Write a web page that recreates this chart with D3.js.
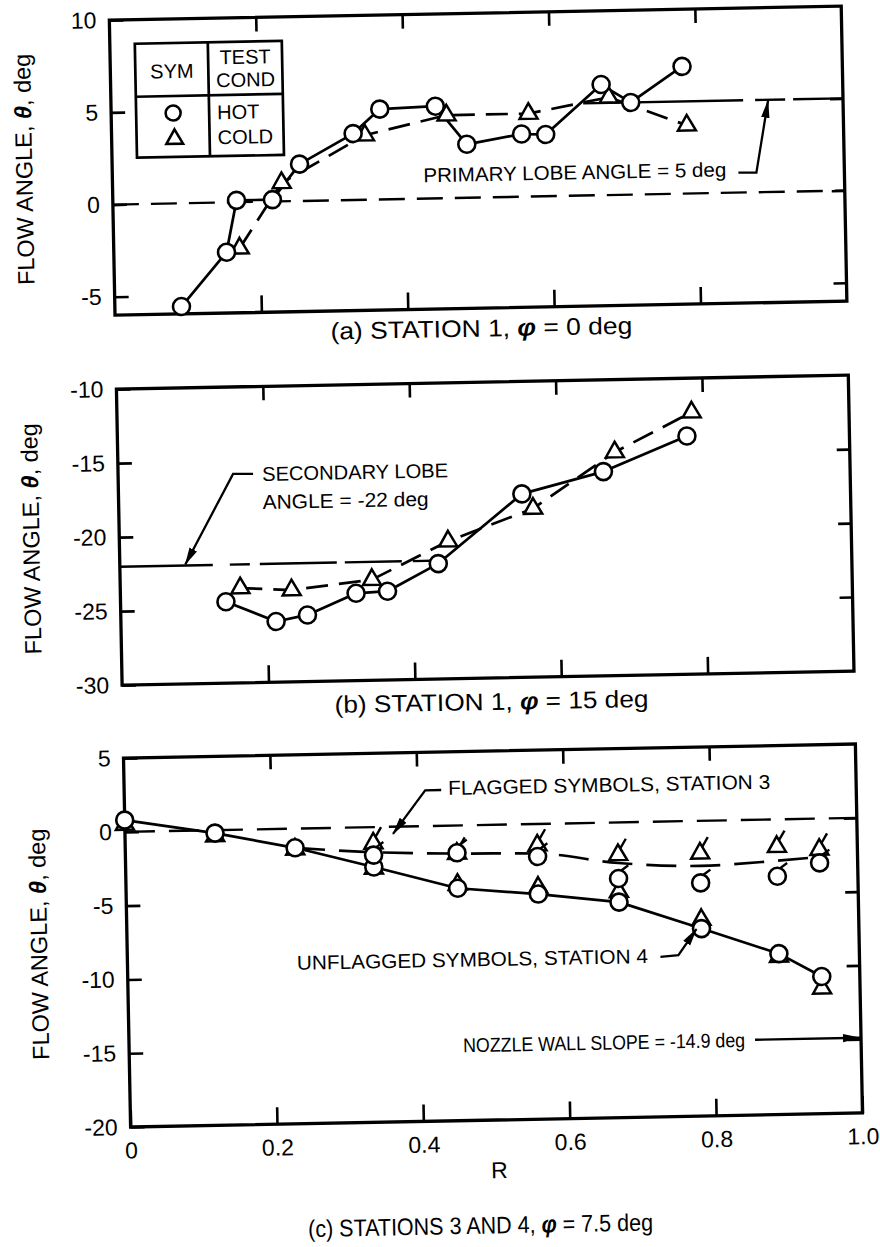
<!DOCTYPE html>
<html>
<head>
<meta charset="utf-8">
<script src="https://cdn.jsdelivr.net/npm/d3@7"></script>
<style>
  html, body { margin: 0; padding: 0; background: #fff; }
  svg { display: block; }
  text { font-family: "Liberation Sans", Arial, Helvetica, sans-serif; fill: #000; }
</style>
</head>
<body>
<svg id="chart" width="880" height="1247"></svg>
<script>
// ---------- (a) Station 1, phi = 0 deg ----------
const aHotR      = [0.091, 0.154, 0.169, 0.218, 0.256, 0.330, 0.367, 0.443, 0.485, 0.560, 0.593, 0.670, 0.710, 0.781];
const aHotTheta  = [-5.6, -2.7, 0.1, 0.1, 2.0, 3.6, 4.9, 5.0, 2.9, 3.4, 3.35, 6.0, 5.0, 6.9];
const aColdR     = [0.172, 0.231, 0.346, 0.458, 0.570, 0.680, 0.786];
const aColdTheta = [-2.5, 1.0, 3.5, 4.5, 4.5, 5.3, 3.7];
const aPrimaryLobe = 5;
const aYTicks = [-5, 0, 5, 10];
const aYDomain = [-6, 10];

// ---------- (b) Station 1, phi = 15 deg ----------
const bHotR      = [0.144, 0.212, 0.255, 0.322, 0.365, 0.435, 0.551, 0.663, 0.778];
const bHotTheta  = [-24.5, -25.9, -25.5, -24.1, -24.0, -22.2, -17.6, -16.2, -13.9];
const bColdR     = [0.164, 0.234, 0.344, 0.449, 0.566, 0.679, 0.785];
const bColdTheta = [-23.6, -23.8, -23.2, -20.7, -18.6, -14.9, -12.3];
const bSecondaryLobe = -22;
const bYTicks = [-30, -25, -20, -15, -10];
const bYDomain = [-30, -10];

// ---------- (c) Stations 3 and 4, phi = 7.5 deg ----------
// station 4 (unflagged symbols)
const cR4    = [0, 0.123, 0.232, 0.339, 0.453, 0.563, 0.673, 0.785, 0.890, 0.948];
const cHot4  = [0.8, -0.2, -1.3, -2.7, -4.25, -4.75, -5.4, -7.3, -9.1, -10.7];
const cCold4 = [0.5, -0.4, -1.4, -2.8, -4.0, -4.3, -4.7, -6.7, -9.3, -11.5];
// station 3 (flagged symbols)
const cR3    = [0.339, 0.453, 0.563, 0.673, 0.785, 0.890, 0.948];
const cHot3  = [-1.9, -1.85, -2.2, -3.8, -4.2, -3.85, -3.0];
const cCold3 = [-1.1, -1.9, -1.45, -2.2, -2.2, -1.85, -2.1];
// faired curve through the station 3 data
const cFairR3     = [0.232, 0.339, 0.453, 0.563, 0.673, 0.785, 0.890, 0.948];
const cFairTheta3 = [-1.3, -1.7, -1.9, -2.0, -2.75, -3.05, -2.8, -2.6];
const cNozzleWallSlope = -14.9;
const cYTicks = [-20, -15, -10, -5, 0, 5];
const cYDomain = [-20, 5];

const xTicks = [0, 0.2, 0.4, 0.6, 0.8, 1.0];

// ---------- drawing ----------
const svg = d3.select("#chart");
svg.append("rect").attr("width", 880).attr("height", 1247).attr("fill", "#fff");

const defs = svg.append("defs");
defs.append("marker")
  .attr("id", "arrow")
  .attr("viewBox", "0 0 18 10")
  .attr("refX", 17).attr("refY", 5)
  .attr("markerWidth", 18).attr("markerHeight", 10)
  .attr("markerUnits", "userSpaceOnUse")
  .attr("orient", "auto")
  .append("path").attr("d", "M0,0.8L18,5L0,9.2Z").attr("fill", "#000");

// the whole sheet sits slightly tilted
const page = svg.append("g").attr("transform", "rotate(-1.1,440,624)");

const left = 121, right = 853;
const x = d3.scaleLinear().domain([0, 1]).range([left, right]);
const innerX = xTicks.filter(d => d > 0 && d < 1);
const FONT = '"Liberation Sans", Arial, Helvetica, sans-serif';

function styleAxis(sel, fontSize) {
  sel.select(".domain").remove();
  sel.attr("font-family", FONT).attr("font-size", fontSize);
  sel.selectAll(".tick line").attr("stroke", "#000").attr("stroke-width", 2.6);
  sel.selectAll(".tick text").attr("fill", "#000");
}

function makePanel(top, bottom, domain, yTicks, withXLabels) {
  const y = d3.scaleLinear().domain(domain).range([bottom, top]);
  const g = page.append("g");
  const inner = yTicks.filter(d => d > domain[0] && d < domain[1]);

  g.append("g").attr("transform", `translate(${left},0)`)
    .call(d3.axisLeft(y).tickValues(yTicks).tickSizeInner(-14).tickSizeOuter(0)
      .tickPadding(13).tickFormat(d => String(d)))
    .call(s => styleAxis(s, 23));

  g.append("g").attr("transform", `translate(${right},0)`)
    .call(d3.axisRight(y).tickValues(inner).tickSizeInner(-13).tickSizeOuter(0).tickFormat(""))
    .call(s => styleAxis(s, 23));

  g.append("g").attr("transform", `translate(0,${top})`)
    .call(d3.axisTop(x).tickValues(innerX).tickSizeInner(-14).tickSizeOuter(0).tickFormat(""))
    .call(s => styleAxis(s, 23));

  const bottomAxis = withXLabels
    ? d3.axisBottom(x).tickValues(xTicks).tickSizeInner(-17).tickSizeOuter(0).tickPadding(15)
        .tickFormat(d => d === 0 ? "0" : d3.format(".1f")(d))
    : d3.axisBottom(x).tickValues(innerX).tickSizeInner(-17).tickSizeOuter(0).tickFormat("");
  g.append("g").attr("transform", `translate(0,${bottom})`)
    .call(bottomAxis)
    .call(s => styleAxis(s, 23));

  g.append("rect")
    .attr("x", left).attr("y", top)
    .attr("width", right - left).attr("height", bottom - top)
    .attr("fill", "none").attr("stroke", "#000").attr("stroke-width", 3.3);

  // y-axis title
  const t = g.append("text")
    .attr("transform", `translate(33,${(top + bottom) / 2}) rotate(-90)`)
    .attr("text-anchor", "middle").attr("dominant-baseline", "central")
    .attr("font-size", 23.5);
  t.append("tspan").text("FLOW ANGLE, ");
  t.append("tspan").attr("font-style", "italic").attr("font-weight", "bold").text("θ");
  t.append("tspan").text(", deg");

  return { g, y, top, bottom };
}

function drawLine(p, xs, ys, dash, curve) {
  const line = d3.line().x(d => x(d[0])).y(d => p.y(d[1]));
  if (curve) line.curve(curve);
  p.g.append("path")
    .attr("d", line(d3.zip(xs, ys)))
    .attr("fill", "none").attr("stroke", "#000").attr("stroke-width", 2.7)
    .attr("stroke-linejoin", "round")
    .attr("stroke-dasharray", dash || null);
}

function refLine(p, x0, x1, v, dash) {
  p.g.append("line")
    .attr("x1", x(x0)).attr("x2", x(x1))
    .attr("y1", p.y(v)).attr("y2", p.y(v))
    .attr("stroke", "#000").attr("stroke-width", 2.4)
    .attr("stroke-dasharray", dash);
}

const triPath = d3.symbol(d3.symbolTriangle, 140)();

function drawTriangles(p, xs, ys, flagged) {
  const sel = p.g.append("g").selectAll("g").data(d3.zip(xs, ys)).join("g")
    .attr("transform", d => `translate(${x(d[0])},${p.y(d[1])})`);
  sel.append("path").attr("d", triPath)
    .attr("fill", "#fff").attr("stroke", "#000").attr("stroke-width", 2.5)
    .attr("stroke-linejoin", "miter");
  if (flagged) {
    sel.append("line").attr("x1", 2).attr("y1", -6).attr("x2", 8).attr("y2", -16)
      .attr("stroke", "#000").attr("stroke-width", 2.4);
  }
}

function drawCircles(p, xs, ys, flagged) {
  const sel = p.g.append("g").selectAll("g").data(d3.zip(xs, ys)).join("g")
    .attr("transform", d => `translate(${x(d[0])},${p.y(d[1])})`);
  sel.append("circle").attr("r", 8.5)
    .attr("fill", "#fff").attr("stroke", "#000").attr("stroke-width", 2.6);
  if (flagged) {
    sel.append("line").attr("x1", 3).attr("y1", -8).attr("x2", 10).attr("y2", -13)
      .attr("stroke", "#000").attr("stroke-width", 2.4);
  }
}

function leader(pts) {
  page.append("path")
    .attr("d", d3.line()(pts))
    .attr("fill", "none").attr("stroke", "#000").attr("stroke-width", 2.3)
    .attr("marker-end", "url(#arrow)");
}

function label(xp, yp, str, size, anchor, len) {
  const t = page.append("text")
    .attr("x", xp).attr("y", yp)
    .attr("dy", "0.35em")
    .attr("font-size", size)
    .attr("text-anchor", anchor || "start")
    .text(str);
  if (len) t.attr("textLength", len).attr("lengthAdjust", "spacingAndGlyphs");
  return t;
}

// panel caption, stretched horizontally to its set width
function caption(cx, cy, pre, post, width) {
  const t = page.append("text")
    .attr("x", 0).attr("y", 0).attr("dy", "0.35em")
    .attr("font-size", 24).attr("text-anchor", "middle");
  t.append("tspan").text(pre);
  t.append("tspan").attr("font-style", "italic").attr("font-weight", "bold").text("φ");
  t.append("tspan").text(post);
  const w = t.node().getComputedTextLength();
  t.attr("transform", `translate(${cx},${cy}) scale(${(width / w).toFixed(4)},1)`);
}

// ----- panel (a) -----
const pa = makePanel(14, 309, aYDomain, aYTicks, false);
refLine(pa, 0, 1, 0, "26,12");
refLine(pa, 0.645, 1, aPrimaryLobe, "160,12,30,8,100");
drawLine(pa, aColdR, aColdTheta, "22,11");
drawLine(pa, aHotR, aHotTheta, null);
drawTriangles(pa, aColdR, aColdTheta, false);
drawCircles(pa, aHotR, aHotTheta, false);

// legend table
const lg = page.append("g");
lg.append("rect").attr("x", 146).attr("y", 38).attr("width", 147).attr("height", 114)
  .attr("fill", "#fff").attr("stroke", "#000").attr("stroke-width", 2.7);
lg.append("line").attr("x1", 219).attr("x2", 219).attr("y1", 38).attr("y2", 152)
  .attr("stroke", "#000").attr("stroke-width", 2.7);
lg.append("line").attr("x1", 146).attr("x2", 293).attr("y1", 91).attr("y2", 91)
  .attr("stroke", "#000").attr("stroke-width", 2.7);
label(182.5, 66, "SYM", 20, "middle");
label(256, 53, "TEST", 20, "middle");
label(256, 76, "COND", 20, "middle");
label(227, 108, "HOT", 20, "start");
label(227, 133, "COLD", 20, "start");
lg.append("circle").attr("cx", 183).attr("cy", 108).attr("r", 7.5)
  .attr("fill", "#fff").attr("stroke", "#000").attr("stroke-width", 2.6);
lg.append("path").attr("d", d3.symbol(d3.symbolTriangle, 120)())
  .attr("transform", "translate(184,134)")
  .attr("fill", "#fff").attr("stroke", "#000").attr("stroke-width", 2.6);

label(432, 175, "PRIMARY LOBE ANGLE = 5 deg", 20, "start", 303);
leader([[747, 178.5], [765, 178.8], [778, pa.y(aPrimaryLobe) + 1]]);
caption(487, 329, "(a) STATION 1, ", " = 0 deg", 302);

// ----- panel (b) -----
const pb = makePanel(383, 679, bYDomain, bYTicks, false);
refLine(pb, 0, 0.44, bSecondaryLobe, "93,17,20,10,77,8,57,11,30");
drawLine(pb, bColdR, bColdTheta, "22,11");
drawLine(pb, bHotR, bHotTheta, null);
drawTriangles(pb, bColdR, bColdTheta, false);
drawCircles(pb, bHotR, bHotTheta, false);

label(265, 470.5, "SECONDARY LOBE", 20, "start", 186);
label(265, 498.6, "ANGLE = -22 deg", 20, "start", 166);
leader([[256, 470.4], [236, 470], [186.5, pb.y(bSecondaryLobe) - 1]]);
caption(490, 702.5, "(b) STATION 1, ", " = 15 deg", 314);

// ----- panel (c) -----
const pc = makePanel(752, 1121, cYDomain, cYTicks, true);
refLine(pc, 0, 1, 0, "30,14");
drawLine(pc, cFairR3, cFairTheta3, "30,14", d3.curveMonotoneX);
drawLine(pc, cR4, cHot4, null);
drawTriangles(pc, cR4, cCold4, false);
drawCircles(pc, cR4, cHot4, false);
drawTriangles(pc, cR3, cCold3, true);
drawCircles(pc, cR3, cHot3, true);

label(445, 788, "FLAGGED SYMBOLS, STATION 3", 20, "start", 322);
leader([[438, 790], [422, 790], [389, 833]]);
label(290.5, 960, "UNFLAGGED SYMBOLS, STATION 4", 20, "start", 351);
leader([[654, 961], [672, 959.6], [690.5, 934]]);
label(455, pc.y(cNozzleWallSlope), "NOZZLE WALL SLOPE = -14.9 deg", 20, "start", 282);
leader([[747, pc.y(cNozzleWallSlope)], [right - 1, pc.y(cNozzleWallSlope)]]);

label(489, 1171, "R", 23, "middle");
caption(469, 1226, "(c) STATIONS 3 AND 4, ", " = 7.5 deg", 345);
</script>
</body>
</html>
